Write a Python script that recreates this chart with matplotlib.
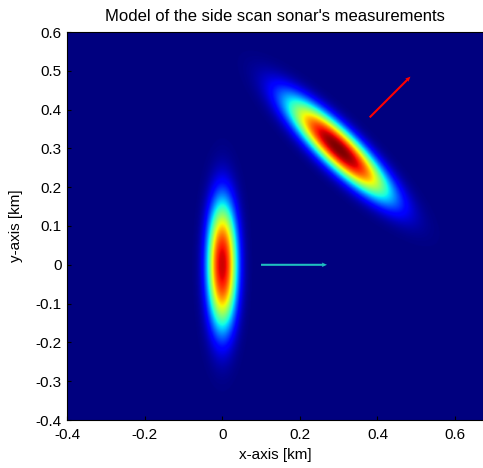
import numpy as np
import matplotlib
matplotlib.use('Agg')
import matplotlib.pyplot as plt

plt.rcParams['font.family'] = ['Liberation Sans', 'DejaVu Sans']

# two sonar returns: centre, half-width along/across beam, tilt (deg), peak level
centres = [(0.0, 0.0), (0.30, 0.30)]
width_major = [0.161, 0.172]
width_minor = [0.038, 0.045]
tilts = [90.0, -44.0]
peaks = [0.93, 1.0]
shape_power = 2.4

# heading arrows: start point and displacement
arrow_starts = [(0.10, 0.0), (0.38, 0.38)]
arrow_moves = [(0.17, 0.0), (0.105, 0.105)]
arrow_colors = ['#1fbfbf', '#ff0000']

x_ticks = [-0.4, -0.2, 0, 0.2, 0.4, 0.6]
y_ticks = [-0.4, -0.3, -0.2, -0.1, 0, 0.1, 0.2, 0.3, 0.4, 0.5, 0.6]
x_lim = (-0.4, 0.672)
y_lim = (-0.4, 0.6)


def blob(X, Y, c, a1, a2, tilt, peak):
    t = np.deg2rad(tilt)
    dx, dy = X - c[0], Y - c[1]
    u = dx * np.cos(t) + dy * np.sin(t)
    v = -dx * np.sin(t) + dy * np.cos(t)
    r = np.sqrt((u / a1) ** 2 + (v / a2) ** 2)
    return peak * np.exp(-r ** shape_power)


xs = np.linspace(x_lim[0], x_lim[1], 700)
ys = np.linspace(y_lim[0], y_lim[1], 650)
X, Y = np.meshgrid(xs, ys)
Z = np.zeros_like(X)
for c, a1, a2, t, p in zip(centres, width_major, width_minor, tilts, peaks):
    Z = np.maximum(Z, blob(X, Y, c, a1, a2, t, p))

fig = plt.figure(figsize=(4.83, 4.68), dpi=100)
ax = fig.add_axes([67 / 483, 48 / 468, 416 / 483, 388 / 468])

ax.imshow(Z, cmap='jet', vmin=0, vmax=1, origin='lower',
          extent=[x_lim[0], x_lim[1], y_lim[0], y_lim[1]],
          aspect='auto', interpolation='bilinear')

for (x0, y0), (dx, dy), col in zip(arrow_starts, arrow_moves, arrow_colors):
    ax.quiver(x0, y0, dx, dy, color=col, angles='xy', scale_units='xy',
              scale=1, width=0.005, headwidth=2.2, headlength=2.5,
              headaxislength=2.2)

ax.set_xlim(x_lim)
ax.set_ylim(y_lim)
ax.set_xticks(x_ticks)
ax.set_yticks(y_ticks)
ax.set_xticklabels([f'{v:g}' for v in x_ticks])
ax.set_yticklabels([f'{v:g}' for v in y_ticks])
ax.tick_params(direction='in', length=3, labelsize=11)
ax.tick_params(axis='x', pad=6)
ax.tick_params(axis='y', pad=4)

ax.set_title("Model of the side scan sonar's measurements", fontsize=12, pad=8)
ax.set_xlabel('x-axis [km]', fontsize=11, labelpad=4)
ax.set_ylabel('y-axis [km]', fontsize=11, labelpad=9)

fig.savefig('out.png', dpi=100)
